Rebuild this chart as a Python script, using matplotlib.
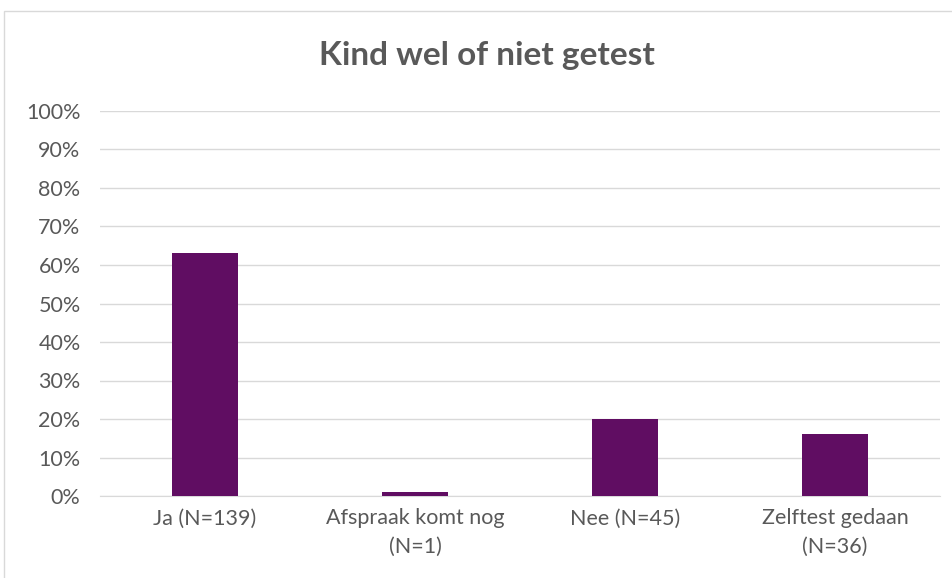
import matplotlib.pyplot as plt
from matplotlib.patches import Rectangle
from matplotlib.ticker import PercentFormatter

# data
categories = ["Ja (N=139)", "Afspraak komt nog\n(N=1)", "Nee (N=45)", "Zelftest gedaan\n(N=36)"]
shares = [63, 1, 20, 16]  # percent
yticks = [0, 10, 20, 30, 40, 50, 60, 70, 80, 90, 100]

bar_color = "#600D62"
text_color = "#595959"
grid_color = "#D9D9D9"

plt.rcParams['font.family'] = ['Lato', 'DejaVu Sans']

fig = plt.figure(figsize=(9.52, 5.78), dpi=100)
W, H = 952, 578

# chart frame (partly cropped at right/bottom)
fig.patches.append(Rectangle((4 / W, -0.05), 1.2, 1 - 11 / H + 0.05,
                             transform=fig.transFigure, fill=False,
                             edgecolor=grid_color, linewidth=1))

ax = fig.add_axes([100 / W, 82 / H, 840 / W, 385 / H])
x = range(len(categories))
ax.bar(x, shares, width=0.31, color=bar_color, zorder=3)

ax.set_xlim(-0.5, len(categories) - 0.5)
ax.set_ylim(0, 100)
ax.set_yticks(yticks)
ax.yaxis.set_major_formatter(PercentFormatter(decimals=0))
ax.set_xticks(list(x))
ax.set_xticklabels(categories, linespacing=1.5, multialignment='center')

ax.grid(axis='y', color=grid_color, linewidth=1, zorder=0)
for s in ['top', 'right', 'left']:
    ax.spines[s].set_visible(False)
ax.spines['bottom'].set_color(grid_color)
ax.tick_params(axis='both', length=0, colors=text_color, labelsize=15.5)
ax.tick_params(axis='x', pad=9)
ax.tick_params(axis='y', pad=14)

fig.text(487 / W, 1 - 55 / H, "Kind wel of niet getest", ha='center', va='center',
         fontsize=24, fontweight='bold', color=text_color)

fig.savefig("out.png", dpi=100)
